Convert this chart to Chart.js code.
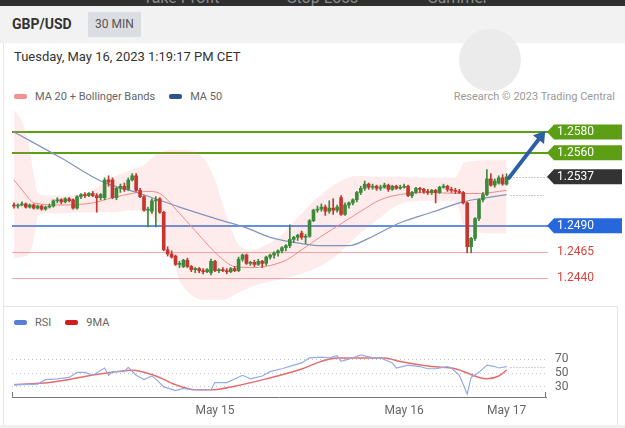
<!DOCTYPE html>
<html lang="en">
<head>
<meta charset="UTF-8">
<title>GBP/USD 30 MIN</title>
<style>
    body {
        margin: 0;
        width: 625px;
        height: 428px;
        background: #fff;
        font-family: Roboto, "Liberation Sans", Arial, sans-serif;
        position: relative;
        overflow: hidden;
    }
    .topbar { position: absolute; left: 0; top: 0; width: 625px; height: 6px; background: #2f2f2f; overflow: hidden; }
    .topbar span { position: absolute; top: -12px; color: #8c8c8c; font-size: 16px; }
    .header { position: absolute; left: 0; top: 6px; width: 625px; height: 37px; background: #f2f2f2; }
    .pair { position: absolute; left: 12px; top: 10px; font-weight: bold; font-size: 14px; color: #333; }
    .tf { position: absolute; left: 88px; top: 6px; width: 53px; height: 25px; background: #dcdde2; color: #555; font-size: 12px; line-height: 25px; text-align: center; }
    .spinner { position: absolute; left: 459px; top: 29px; width: 62px; height: 62px; border-radius: 50%; background: #ebebeb; }
    .date { position: absolute; left: 14px; top: 49px; font-size: 13px; color: #333; }
    .legend { position: absolute; font-size: 11px; color: #666; display: flex; align-items: center; white-space: nowrap; }
    .legend i { display: inline-block; width: 13px; height: 5px; border-radius: 2px; margin-right: 8px; }
    .legend b { font-weight: normal; margin-right: 14px; }
    .credit { position: absolute; right: 10px; top: 90px; font-size: 11px; color: #999; }
    .leftline { position: absolute; left: 3px; top: 43px; width: 1px; height: 263px; background: #e8e8e8; }
    .rsibox { position: absolute; left: 3px; top: 306px; width: 613px; height: 118px; border: 1px solid #e6e6e6; }
    .foot { position: absolute; left: 0; top: 425px; width: 625px; height: 3px; background: #f0f0f0; }
    canvas { position: absolute; left: 0; }
</style>
</head>
<body>
    <div class="topbar"><span style="left:143px">Take Profit</span><span style="left:287px">Stop Loss</span><span style="left:428px">Summer</span></div>
    <div class="header">
        <div class="pair">GBP/USD</div>
        <div class="tf">30 MIN</div>
    </div>
    <div class="spinner"></div>
    <div class="date">Tuesday, May 16, 2023 1:19:17 PM CET</div>
    <div class="legend" style="left:14px; top:90px;"><i style="background:#f29191"></i><b>MA 20 + Bollinger Bands</b><i style="background:#2c5590"></i><b>MA 50</b></div>
    <div class="credit">Research © 2023 Trading Central</div>
    <div class="leftline"></div>
    <div class="rsibox"></div>
    <div class="legend" style="left:14px; top:316px;"><i style="background:#5b7fd6"></i><b>RSI</b><i style="background:#d41a1a"></i><b>9MA</b></div>
    <div class="foot"></div>

    <canvas id="priceChart" width="625" height="195" style="top:108px"></canvas>
    <canvas id="rsiChart" width="625" height="84" style="top:338px"></canvas>

    <script src="https://cdn.jsdelivr.net/npm/chart.js"></script>
    <script>
        // 30 min candles, index 0 = May 14 evening, index 125 = May 16 13:00
        var opens = [1.2510,1.2509,1.2510,1.2511,1.2508,1.2510,1.2507,1.2509,1.2506,1.2508,
            1.2509,1.2514,1.2515,1.2513,1.2516,1.2515,1.2507,1.2518,1.2520,1.2519,
            1.2521,1.2519,1.2517,1.2517,1.2534,1.2534,1.2517,1.2526,1.2528,1.2525,
            1.2534,1.2538,1.2524,1.2518,1.2505,1.2504,1.2514,1.2516,1.2503,1.2467,
            1.2463,1.2461,1.2453,1.2451,1.2457,1.2451,1.2448,1.2449,1.2447,1.2446,
            1.2445,1.2456,1.2447,1.2448,1.2447,1.2446,1.2449,1.2447,1.2458,1.2462,
            1.2454,1.2455,1.2453,1.2456,1.2454,1.2460,1.2462,1.2464,1.2466,1.2469,
            1.2471,1.2477,1.2479,1.2483,1.2479,1.2480,1.2495,1.2505,1.2506,1.2508,
            1.2504,1.2507,1.2505,1.2517,1.2501,1.2510,1.2512,1.2515,1.2522,1.2526,
            1.2530,1.2527,1.2528,1.2526,1.2527,1.2529,1.2525,1.2528,1.2526,1.2527,
            1.2528,1.2519,1.2522,1.2526,1.2525,1.2523,1.2522,1.2524,1.2522,1.2527,
            1.2528,1.2525,1.2524,1.2523,1.2522,1.2512,1.2470,1.2478,1.2497,1.2515,
            1.2520,1.2535,1.2529,1.2531,1.2536,1.2530];
        var highs = [1.2512,1.2511,1.2513,1.2512,1.2511,1.2511,1.2510,1.2510,1.2509,1.2511,
            1.2515,1.2517,1.2516,1.2517,1.2517,1.2516,1.2519,1.2521,1.2522,1.2522,
            1.2523,1.2521,1.2521,1.2536,1.2538,1.2536,1.2527,1.2530,1.2531,1.2536,
            1.2540,1.2540,1.2526,1.2519,1.2508,1.2516,1.2518,1.2517,1.2504,1.2470,
            1.2466,1.2462,1.2456,1.2458,1.2459,1.2452,1.2450,1.2450,1.2449,1.2449,
            1.2458,1.2457,1.2449,1.2450,1.2449,1.2450,1.2451,1.2460,1.2463,1.2463,
            1.2456,1.2457,1.2458,1.2457,1.2461,1.2463,1.2465,1.2467,1.2470,1.2472,
            1.2491,1.2480,1.2482,1.2485,1.2482,1.2496,1.2506,1.2509,1.2511,1.2510,
            1.2514,1.2516,1.2510,1.2519,1.2512,1.2513,1.2516,1.2523,1.2528,1.2533,
            1.2531,1.2530,1.2529,1.2529,1.2531,1.2530,1.2529,1.2529,1.2529,1.2530,
            1.2529,1.2523,1.2527,1.2527,1.2526,1.2525,1.2525,1.2525,1.2528,1.2530,
            1.2529,1.2527,1.2526,1.2525,1.2523,1.2513,1.2479,1.2498,1.2516,1.2522,
            1.2544,1.2540,1.2535,1.2538,1.2539,1.2540];
        var lows = [1.2507,1.2507,1.2509,1.2507,1.2507,1.2506,1.2506,1.2505,1.2505,1.2507,
            1.2508,1.2512,1.2511,1.2512,1.2513,1.2506,1.2506,1.2516,1.2517,1.2518,
            1.2518,1.2503,1.2515,1.2515,1.2528,1.2516,1.2515,1.2522,1.2523,1.2524,
            1.2533,1.2523,1.2517,1.2504,1.2489,1.2502,1.2489,1.2502,1.2466,1.2461,
            1.2459,1.2452,1.2450,1.2450,1.2450,1.2446,1.2445,1.2445,1.2444,1.2445,
            1.2443,1.2446,1.2445,1.2446,1.2444,1.2445,1.2446,1.2446,1.2456,1.2453,
            1.2452,1.2451,1.2452,1.2450,1.2452,1.2458,1.2459,1.2461,1.2464,1.2466,
            1.2469,1.2474,1.2476,1.2477,1.2473,1.2479,1.2494,1.2503,1.2504,1.2500,
            1.2502,1.2501,1.2503,1.2500,1.2500,1.2507,1.2510,1.2513,1.2520,1.2524,
            1.2525,1.2525,1.2524,1.2524,1.2526,1.2523,1.2524,1.2525,1.2525,1.2526,
            1.2518,1.2517,1.2521,1.2522,1.2521,1.2520,1.2520,1.2512,1.2521,1.2526,
            1.2523,1.2522,1.2521,1.2521,1.2511,1.2464,1.2464,1.2476,1.2495,1.2513,
            1.2519,1.2528,1.2527,1.2530,1.2529,1.2529];
        var closes = [1.2509,1.2510,1.2511,1.2508,1.2510,1.2507,1.2509,1.2506,1.2508,1.2509,
            1.2514,1.2515,1.2513,1.2516,1.2514,1.2507,1.2518,1.2520,1.2519,1.2521,
            1.2519,1.2517,1.2520,1.2534,1.2532,1.2517,1.2526,1.2528,1.2525,1.2534,
            1.2538,1.2524,1.2518,1.2505,1.2506,1.2514,1.2515,1.2503,1.2467,1.2463,
            1.2460,1.2453,1.2454,1.2457,1.2451,1.2448,1.2449,1.2447,1.2446,1.2448,
            1.2456,1.2447,1.2448,1.2447,1.2446,1.2449,1.2447,1.2458,1.2462,1.2454,
            1.2455,1.2453,1.2456,1.2454,1.2460,1.2462,1.2464,1.2466,1.2469,1.2471,
            1.2477,1.2479,1.2481,1.2479,1.2480,1.2495,1.2505,1.2506,1.2508,1.2504,
            1.2507,1.2505,1.2508,1.2501,1.2510,1.2512,1.2515,1.2522,1.2526,1.2530,
            1.2527,1.2528,1.2526,1.2527,1.2529,1.2525,1.2528,1.2526,1.2527,1.2528,
            1.2519,1.2522,1.2526,1.2525,1.2523,1.2522,1.2524,1.2522,1.2527,1.2528,
            1.2525,1.2524,1.2523,1.2522,1.2512,1.2470,1.2478,1.2497,1.2515,1.2520,
            1.2535,1.2529,1.2533,1.2536,1.2530,1.2537];

        // Bollinger bands (read at these candle indexes)
        var bandIdx = [0,2,4,5,6,8,12,18,22,25,30,33,35,37,40,42,45,48,51,53,55,57,60,63,67,72,77,82,87,92,98,105,110,112,113,114,116,120,125];
        var bandUpper = [1.2601,1.2590,1.2563,1.2539,1.2522,1.2519,1.2519,1.2521,1.2529,1.2536,1.2544,1.2548,1.2555,1.2560,1.2563,1.2563,1.2562,1.2555,1.2534,1.2510,
            1.2488,1.2472,1.2467,1.2470,1.2478,1.2498,1.2517,1.2531,1.2538,1.2537,1.2537,1.2536,1.2536,1.2536,1.2542,1.2550,1.2552,1.2553,1.2553];
        var bandLower = [1.2459,1.2460,1.2464,1.2476,1.2498,1.2502,1.2502,1.2503,1.2503,1.2503,1.2505,1.2503,1.2499,1.2490,1.2462,1.2438,1.2424,1.2419,1.2419,1.2419,
            1.2422,1.2426,1.2431,1.2435,1.2438,1.2443,1.2450,1.2462,1.2480,1.2495,1.2511,1.2514,1.2514,1.2513,1.2505,1.2491,1.2484,1.2483,1.2483];

        var ma20Idx = [0,3,5,12,20,25,30,34,37,42,47,52,56,61,65,69,73,78,83,88,93,98,105,113,118,125];
        var ma20 = [1.2534,1.2520,1.2512,1.2510,1.2512,1.2517,1.2521,1.2523,1.2521,1.2502,1.2481,1.2461,1.2451,1.2450,1.2452,1.2457,1.2467,1.2480,1.2492,1.2504,1.2515,1.2520,1.2522,1.2521,1.2521,1.2524];

        var ma50Idx = [0,12,22,32,42,52,59,65,73,78,85,90,98,106,114,120,125];
        var ma50 = [1.2580,1.2555,1.2533,1.2521,1.2508,1.2496,1.2488,1.2479,1.2473,1.2471,1.2471,1.2478,1.2493,1.2503,1.2513,1.2517,1.2520];

        // key levels on the right
        var levelValues = [1.2580, 1.2560, 1.2537, 1.2490, 1.2465, 1.2440];
        var levelLabels = ['1.2580', '1.2560', '1.2537', '1.2490', '1.2465', '1.2440'];
        var arrowFrom = [125.6, 1.2536];
        var arrowTo = [134.8, 1.2581];

        // RSI panel
        var rsiIdx = [0,6,8,11,14,16,18,20,23,24,25,28,29,31,33,35,36,38,41,43,45,47,50,51,54,58,60,63,65,68,71,73,75,78,80,82,83,86,88,91,93,96,97,100,103,105,107,110,111,113,115,116,118,120,122,123,125];
        var rsi = [33,34,40.5,41.6,43.7,51,51,47,57.4,46.8,52,52,58.4,46.8,40.5,45.8,41.6,30,24.7,27.9,
            25.8,25.8,25.8,36.3,36.3,46.8,41.6,45.8,52.1,56.3,61.6,64.7,72.1,73.2,72.1,75.3,67,72.1,76.3,72.1,
            72.1,64.7,57.4,61.6,59.5,56.3,56.3,59.5,57.4,46.8,19.5,43.7,51.1,61.6,59.5,57.4,59.5];
        var ma9Idx = [0,9,22,30,36,41,46,50,56,64,73,78,82,94,98,106,112,118,120,123,125];
        var ma9 = [33.2,36.3,48.9,54.2,45.8,33.2,25.8,25.8,31,41.6,56,67,72,72,66.8,59.5,56.3,43.7,41.6,45.8,54.2];
        var rsiTicks = [30, 50, 70];

        var dayIdx = [51, 99, 125];
        var dayLabels = ['May 15', 'May 16', 'May 17'];

        var UP = '#3a8a3a', DOWN = '#c4372e';

        function pts(idx, vals) {
            return idx.map(function (v, i) { return { x: v, y: vals[i] }; });
        }
        function candleColor(c) {
            var i = c.dataIndex;
            return closes[i] >= opens[i] ? UP : DOWN;
        }

        Chart.defaults.font.family = 'Roboto, "Liberation Sans", sans-serif';

        function tag(ctx, x, y, w, h, color) {
            ctx.beginPath();
            ctx.moveTo(x, y);
            ctx.lineTo(x + 7, y - h / 2);
            ctx.lineTo(x + w, y - h / 2);
            ctx.lineTo(x + w, y + h / 2);
            ctx.lineTo(x + 7, y + h / 2);
            ctx.closePath();
            ctx.fillStyle = color;
            ctx.fill();
        }

        var levelStyle = [
            { color: '#5c9e14', width: 2, tag: '#5c9e14' },
            { color: '#5c9e14', width: 2, tag: '#5c9e14' },
            { color: '#999', width: 1, tag: '#333', dotted: true },
            { color: '#2f6ad8', width: 1.5, tag: '#2668dc' },
            { color: '#f2a8a8', width: 1, text: '#d9443c' },
            { color: '#f2a8a8', width: 1, text: '#d9443c' }
        ];

        var levelsPlugin = {
            id: 'levels',
            beforeDatasetsDraw: function (chart) {
                var ctx = chart.ctx, a = chart.chartArea, y = chart.scales.y, x = chart.scales.x;
                ctx.save();
                levelValues.forEach(function (v, i) {
                    var s = levelStyle[i];
                    var py = Math.round(y.getPixelForValue(v)) + (s.width === 1 ? 0.5 : 0);
                    ctx.strokeStyle = s.color;
                    ctx.lineWidth = s.width;
                    ctx.beginPath();
                    if (s.dotted) {
                        ctx.setLineDash([1, 2]);
                        ctx.moveTo(x.getPixelForValue(126), py);
                    } else {
                        ctx.setLineDash([]);
                        ctx.moveTo(a.left, py);
                    }
                    ctx.lineTo(a.right + 2, py);
                    ctx.stroke();
                });
                // dotted marker at last MA 50 value
                var pm = Math.round(y.getPixelForValue(ma50[ma50.length - 1])) + 0.5;
                ctx.setLineDash([1, 2]);
                ctx.strokeStyle = '#999';
                ctx.lineWidth = 1;
                ctx.beginPath();
                ctx.moveTo(x.getPixelForValue(126), pm);
                ctx.lineTo(a.right - 2, pm);
                ctx.stroke();
                ctx.restore();
            },
            afterDatasetsDraw: function (chart) {
                var ctx = chart.ctx, a = chart.chartArea, y = chart.scales.y, x = chart.scales.x;
                ctx.save();
                ctx.font = '12px Roboto, sans-serif';
                ctx.textBaseline = 'middle';
                levelValues.forEach(function (v, i) {
                    var s = levelStyle[i];
                    var py = y.getPixelForValue(v);
                    if (s.tag) {
                        tag(ctx, a.right + 1, py, 75, 15, s.tag);
                        ctx.fillStyle = '#fff';
                    } else {
                        ctx.fillStyle = s.text;
                    }
                    ctx.fillText(levelLabels[i], a.right + 11, py + 0.5);
                });
                // arrow towards the target
                var x0 = x.getPixelForValue(arrowFrom[0]), y0 = y.getPixelForValue(arrowFrom[1]);
                var x1 = x.getPixelForValue(arrowTo[0]), y1 = y.getPixelForValue(arrowTo[1]);
                var ang = Math.atan2(y1 - y0, x1 - x0);
                var hx = x1 - 11 * Math.cos(ang), hy = y1 - 11 * Math.sin(ang);
                ctx.strokeStyle = '#2d5fa6';
                ctx.fillStyle = '#2d5fa6';
                ctx.lineWidth = 4;
                ctx.lineCap = 'round';
                ctx.beginPath();
                ctx.moveTo(x0, y0);
                ctx.lineTo(hx, hy);
                ctx.stroke();
                ctx.beginPath();
                ctx.moveTo(x1, y1);
                ctx.lineTo(hx + 7 * Math.sin(ang), hy - 7 * Math.cos(ang));
                ctx.lineTo(hx - 7 * Math.sin(ang), hy + 7 * Math.cos(ang));
                ctx.closePath();
                ctx.fill();
                ctx.restore();
            }
        };

        new Chart(document.getElementById('priceChart'), {
            type: 'bar',
            data: {
                datasets: [
                    {
                        type: 'line', label: 'Upper', data: pts(bandIdx, bandUpper), order: 6,
                        borderWidth: 0, pointRadius: 0, fill: '+1', backgroundColor: 'rgba(247,120,120,0.15)',
                        cubicInterpolationMode: 'monotone'
                    },
                    {
                        type: 'line', label: 'Lower', data: pts(bandIdx, bandLower), order: 7,
                        borderWidth: 0, pointRadius: 0, fill: false, cubicInterpolationMode: 'monotone'
                    },
                    {
                        type: 'line', label: 'MA 20', data: pts(ma20Idx, ma20), order: 5,
                        borderColor: '#f08a8a', borderWidth: 1, pointRadius: 0, fill: false, cubicInterpolationMode: 'monotone'
                    },
                    {
                        type: 'line', label: 'MA 50', data: pts(ma50Idx, ma50), order: 4,
                        borderColor: '#8294bd', borderWidth: 1.2, pointRadius: 0, fill: false, cubicInterpolationMode: 'monotone'
                    },
                    {
                        label: 'Wick', order: 2, grouped: false, barThickness: 1,
                        data: highs.map(function (h, i) { return { x: i, y: [lows[i], h] }; }),
                        backgroundColor: candleColor
                    },
                    {
                        label: 'Body', order: 1, grouped: false, barThickness: 3, minBarLength: 1,
                        data: opens.map(function (o, i) { return { x: i, y: [o, closes[i]] }; }),
                        backgroundColor: candleColor
                    }
                ]
            },
            options: {
                responsive: false,
                animation: false,
                events: [],
                layout: { padding: { left: 12, right: 79, top: 0, bottom: 0 } },
                plugins: { legend: { display: false }, tooltip: { enabled: false } },
                scales: {
                    x: { type: 'linear', min: -0.5, max: 135, offset: false, display: false },
                    y: { min: 1.2416, max: 1.2603, display: false }
                }
            },
            plugins: [levelsPlugin]
        });

        var rsiPlugin = {
            id: 'rsiExtras',
            afterDraw: function (chart) {
                var ctx = chart.ctx, a = chart.chartArea, y = chart.scales.y, x = chart.scales.x;
                ctx.save();
                ctx.strokeStyle = '#777';
                ctx.lineWidth = 1;
                ctx.beginPath();
                ctx.moveTo(a.left + 0.5, a.bottom - 5);
                ctx.lineTo(a.left + 0.5, a.bottom);
                ctx.moveTo(a.right - 0.5, a.bottom - 5);
                ctx.lineTo(a.right - 0.5, a.bottom);
                ctx.stroke();
                var py = Math.round(y.getPixelForValue(rsi[rsi.length - 1])) + 0.5;
                ctx.strokeStyle = '#aaa';
                ctx.setLineDash([1, 2]);
                ctx.beginPath();
                ctx.moveTo(x.getPixelForValue(126), py);
                ctx.lineTo(a.right, py);
                ctx.stroke();
                ctx.restore();
            }
        };

        new Chart(document.getElementById('rsiChart'), {
            type: 'line',
            data: {
                datasets: [
                    { label: 'RSI', data: pts(rsiIdx, rsi), borderColor: '#94abe8', borderWidth: 1.2, pointRadius: 0, tension: 0 },
                    { label: '9MA', data: pts(ma9Idx, ma9), borderColor: '#e36c6c', borderWidth: 1.5, pointRadius: 0, cubicInterpolationMode: 'monotone' }
                ]
            },
            options: {
                responsive: false,
                animation: false,
                events: [],
                layout: { padding: { left: 12, right: 0, top: 0, bottom: 0 } },
                plugins: { legend: { display: false }, tooltip: { enabled: false } },
                scales: {
                    x: {
                        type: 'linear', min: -0.5, max: 135, offset: false,
                        afterFit: function (s) { s.height = 25; },
                        afterBuildTicks: function (s) { s.ticks = dayIdx.map(function (v) { return { value: v }; }); },
                        grid: { display: false, drawTicks: false },
                        border: { display: true, color: '#777', width: 1 },
                        ticks: {
                            autoSkip: false, maxRotation: 0, padding: 7, color: '#666', font: { size: 12 },
                            callback: function (v) { return dayLabels[dayIdx.indexOf(v)]; }
                        }
                    },
                    y: {
                        position: 'right', min: 15.3, max: 77.4,
                        afterFit: function (s) { s.width = 79; },
                        afterBuildTicks: function (s) { s.ticks = rsiTicks.map(function (v) { return { value: v }; }); },
                        grid: { color: '#c4c4c4', drawTicks: false },
                        border: { display: false, dash: [1, 3] },
                        ticks: { padding: 9, color: '#666', font: { size: 12 } }
                    }
                }
            },
            plugins: [rsiPlugin]
        });
    </script>
</body>
</html>
